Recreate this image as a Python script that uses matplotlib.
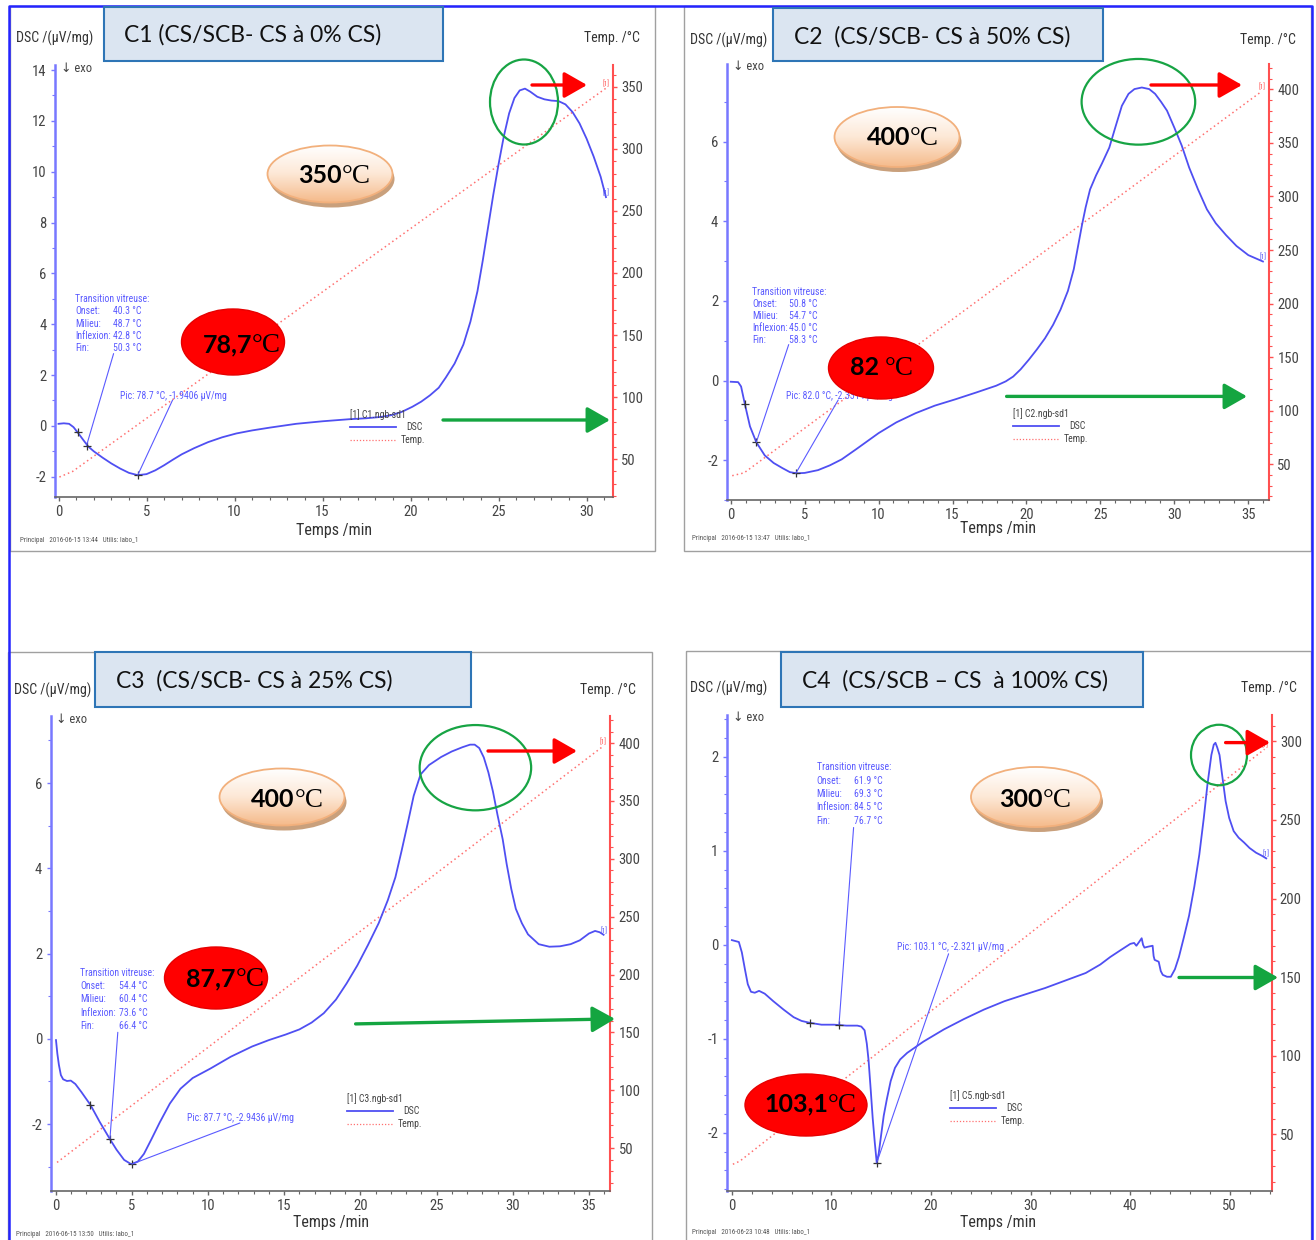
"""DSC thermograms of the CS/SCB blends (C1..C4), redrawn as four panels.

Output:
  out.png
"""

import matplotlib
matplotlib.use("Agg")
import matplotlib.pyplot as plt
import numpy as np
from matplotlib import font_manager
from matplotlib.colors import LinearSegmentedColormap
from matplotlib.patches import Ellipse, Rectangle
from matplotlib.ticker import MultipleLocator

W, H = 1316, 1240

# ---------------------------------------------------------------- data
C1_TIME = [0.0, 0.3, 0.6, 0.85, 1.1, 1.4, 1.7, 2.0, 2.5, 3.0, 3.5, 4.0, 4.5,
           5.0, 5.5, 6.0, 6.5, 7.0, 7.7, 8.5, 9.3, 10.1, 11.0, 12.0, 13.5,
           15.0, 16.5, 17.5, 18.3, 18.9, 19.5, 20.1, 20.6, 21.1, 21.6, 22.0,
           22.5, 23.0, 23.4, 23.8, 24.1, 24.4, 24.7, 25.0, 25.3, 25.6, 25.9,
           26.2, 26.5, 26.8, 27.2, 27.6, 28.0, 28.4, 28.8, 29.2, 29.6, 30.0,
           30.4, 30.8, 31.1]
C1_DSC = [0.08, 0.1, 0.08, -0.05, -0.27, -0.55, -0.82, -1.0, -1.25, -1.48,
          -1.68, -1.85, -1.94, -1.9, -1.75, -1.55, -1.33, -1.12, -0.88, -0.64,
          -0.45, -0.3, -0.18, -0.07, 0.08, 0.18, 0.26, 0.3, 0.35, 0.42, 0.55,
          0.75, 0.95, 1.2, 1.5, 1.9, 2.45, 3.2, 4.1, 5.3, 6.5, 7.8, 9.1,
          10.3, 11.4, 12.3, 12.9, 13.2, 13.27, 13.15, 12.95, 12.85, 12.8,
          12.78, 12.65, 12.35, 11.9, 11.3, 10.6, 9.8, 9.0]
C1_TEMP_TIME = [0.05, 0.8, 31.1]
C1_TEMP = [35.5, 40.0, 349.0]
C1_MARK_TIME = [1.08, 1.59, 4.5]
C1_MARK_DSC = [-0.24, -0.78, -1.94]
C1_TG = ["40.3", "48.7", "42.8", "50.3"]
C1_PIC = "Pic: 78.7 °C, -1.9406 µV/mg"

C2_TIME = [0.0, 0.5, 0.7, 0.96, 1.3, 1.73, 2.3, 2.9, 3.5, 4.0, 4.47, 5.0,
           5.9, 6.7, 7.5, 8.5, 10.0, 11.2, 12.5, 13.8, 15.2, 16.6, 17.95,
           18.6, 19.1, 19.6, 20.15, 20.7, 21.25, 21.8, 22.3, 22.8, 23.2, 23.5,
           23.75, 24.0, 24.3, 24.7, 25.1, 25.6, 26.0, 26.45, 26.9, 27.3, 27.8,
           28.3, 28.7, 29.1, 29.5, 30.0, 30.5, 31.0, 31.6, 32.2, 32.8, 33.5,
           34.2, 35.0, 35.99]
C2_DSC = [-0.03, -0.04, -0.15, -0.6, -1.15, -1.55, -1.88, -2.07, -2.2, -2.3,
          -2.33, -2.32, -2.25, -2.13, -1.98, -1.72, -1.32, -1.05, -0.82,
          -0.63, -0.47, -0.3, -0.13, -0.02, 0.1, 0.28, 0.52, 0.78, 1.06, 1.4,
          1.78, 2.25, 2.8, 3.4, 3.9, 4.35, 4.8, 5.15, 5.45, 5.85, 6.35, 6.9,
          7.2, 7.32, 7.36, 7.32, 7.2, 7.0, 6.78, 6.35, 5.9, 5.35, 4.8, 4.3,
          3.95, 3.65, 3.38, 3.15, 2.99]
C2_TEMP_TIME = [0.1, 0.9, 35.9]
C2_TEMP = [39.4, 42.0, 398.0]
C2_MARK_TIME = [0.97, 1.73, 4.4]
C2_MARK_DSC = [-0.6, -1.55, -2.33]
C2_TG = ["50.8", "54.7", "45.0", "58.3"]
C2_PIC = "Pic: 82.0 °C, -2.3314 µV/mg"

C3_TIME = [0.03, 0.12, 0.22, 0.35, 0.5, 0.75, 1.0, 1.3, 1.7, 2.29, 2.9, 3.58,
           4.0, 4.5, 4.96, 5.4, 5.8, 6.3, 6.84, 7.5, 8.2, 9.0, 10.15, 11.5,
           12.9, 14.0, 15.1, 16.0, 16.8, 17.6, 18.4, 19.1, 19.8, 20.5, 21.2,
           21.8, 22.3, 22.7, 23.1, 23.5, 23.95, 24.5, 25.3, 26.0, 26.7, 27.2,
           27.5, 27.8, 28.1, 28.4, 28.7, 29.0, 29.34, 29.6, 29.9, 30.2, 30.6,
           31.0, 31.7, 32.4, 33.1, 33.8, 34.4, 35.0, 35.4, 35.7, 35.96]
C3_DSC = [-0.03, -0.35, -0.61, -0.85, -0.95, -0.99, -0.98, -1.06, -1.25,
          -1.55, -1.95, -2.36, -2.6, -2.84, -2.94, -2.88, -2.7, -2.35, -1.96,
          -1.52, -1.17, -0.92, -0.7, -0.42, -0.18, -0.03, 0.1, 0.22, 0.38,
          0.6, 0.92, 1.3, 1.72, 2.2, 2.71, 3.25, 3.79, 4.4, 5.04, 5.7, 6.2,
          6.42, 6.61, 6.74, 6.84, 6.9, 6.9, 6.82, 6.6, 6.25, 5.8, 5.25, 4.68,
          4.1, 3.52, 3.05, 2.71, 2.45, 2.22, 2.16, 2.17, 2.22, 2.31, 2.47,
          2.53, 2.5, 2.44]
C3_TEMP_TIME = [0.1, 35.9]
C3_TEMP = [37.7, 397.0]
C3_MARK_TIME = [2.29, 3.57, 5.0]
C3_MARK_DSC = [-1.55, -2.35, -2.94]
C3_TG = ["54.4", "60.4", "73.6", "66.4"]
C3_PIC = "Pic: 87.7 °C, -2.9436 µV/mg"

C4_TIME = [0.0, 0.7, 1.0, 1.31, 1.6, 1.92, 2.3, 2.73, 3.3, 4.16, 5.2, 6.2,
           7.0, 7.82, 9.0, 10.27, 11.5, 12.6, 13.0, 13.33, 13.55, 13.73,
           13.95, 14.14, 14.35, 14.55, 14.75, 14.96, 15.25, 15.57, 15.95,
           16.38, 16.9, 17.61, 19.24, 21.3, 23.31, 25.3, 27.38, 29.4, 31.46,
           33.5, 35.54, 37.0, 38.0, 39.0, 40.02, 40.4, 40.63, 40.9, 41.16,
           41.3, 41.44, 41.8, 42.26, 42.36, 42.46, 42.87, 43.08, 43.28, 43.7,
           44.09, 44.5, 44.9, 45.4, 45.92, 46.45, 46.95, 47.4, 47.76, 48.16,
           48.4, 48.57, 48.75, 48.98, 49.25, 49.59, 49.95, 50.4, 50.9, 51.43,
           52.0, 52.65, 53.2, 53.67]
C4_DSC = [0.05, 0.03, -0.08, -0.26, -0.42, -0.5, -0.51, -0.49, -0.52, -0.6,
          -0.69, -0.77, -0.81, -0.83, -0.85, -0.85, -0.86, -0.86, -0.87,
          -0.91, -1.05, -1.23, -1.55, -1.84, -2.1, -2.32, -2.22, -2.05, -1.82,
          -1.64, -1.45, -1.31, -1.22, -1.15, -1.03, -0.9, -0.79, -0.69, -0.6,
          -0.53, -0.46, -0.38, -0.3, -0.21, -0.13, -0.06, 0.01, 0.02, -0.01,
          0.03, 0.07, 0.0, -0.03, -0.02, -0.01, -0.12, -0.16, -0.18, -0.28,
          -0.32, -0.34, -0.34, -0.26, -0.13, 0.08, 0.31, 0.62, 0.96, 1.35,
          1.7, 2.02, 2.13, 2.15, 2.1, 2.02, 1.8, 1.53, 1.35, 1.21, 1.14,
          1.09, 1.03, 0.98, 0.95, 0.92]
C4_TEMP_TIME = [0.1, 0.8, 53.5]
C4_TEMP = [31.0, 33.0, 295.0]
C4_MARK_TIME = [7.82, 10.76, 14.55]
C4_MARK_DSC = [-0.83, -0.85, -2.32]
C4_TG = ["61.9", "69.3", "84.5", "76.7"]
C4_PIC = "Pic: 103.1 °C, -2.321 µV/mg"

TITLES = ["C1 (CS/SCB- CS à 0% CS)", "C2  (CS/SCB- CS à 50% CS)",
          "C3  (CS/SCB- CS à 25% CS)", "C4  (CS/SCB – CS  à 100% CS)"]
DEGRADATION = ["350", "400", "400", "300"]
PEAK_LABELS = ["78,7", "82", "87,7", "103,1"]
FILE_NAMES = ["[1] C1.ngb-sd1", "[1] C2.ngb-sd1", "[1] C3.ngb-sd1",
              "[1] C5.ngb-sd1"]
STAMPS = ["2016-06-15 13:44", "2016-06-15 13:47", "2016-06-15 13:50",
          "2016-06-23 10:48"]
TG_LABELS = ["Onset:", "Milieu:", "Inflexion:", "Fin:"]
TG_LABELS_C4 = ["Onset:", "Milieu:", "Inflesion:", "Fin:"]

# ---------------------------------------------------------------- style
DSC_BLUE = "#4f4ff2"
AXIS_BLUE = "#7878ff"
TEMP_RED = "#ff7070"
AXIS_RED = "#ff5050"
NOTE_BLUE = "#5a5aff"
TICK_GREY = "#444444"


def pick_narrow():
    entries = font_manager.fontManager.ttflist
    names = {f.name for f in entries}
    for cand in ("Liberation Sans Narrow", "Roboto Condensed", "Open Sans Condensed",
                 "Noto Sans Condensed"):
        if cand in names:
            return cand, "normal", 1.0
    for f in entries:
        if f.name == "DejaVu Sans" and "condensed" in str(f.stretch):
            return "DejaVu Sans", "condensed", 0.95
    return "Liberation Sans", "normal", 0.88


NARROW, STRETCH, SCALE = pick_narrow()
_names = {f.name for f in font_manager.fontManager.ttflist}
TITLE_FONT = "Lato" if "Lato" in _names else "DejaVu Sans"
SERIF = "Liberation Serif"

BEIGE = LinearSegmentedColormap.from_list("beige", ["#ffffff", "#fde8d6", "#f5bb8c"])


def fs(size):
    return size * SCALE


def add_badge(ov, cx, cy, w, h, num, num_right, unit_left, base, red):
    if red:
        ov.add_patch(Ellipse((cx, cy), w, h, facecolor="#ff0000",
                             edgecolor="#e60000", lw=1, zorder=6))
    else:
        ov.add_patch(Ellipse((cx + 2, cy + 5), w, h, facecolor="#c9a07c",
                             edgecolor="none", zorder=4))
        body = Ellipse((cx, cy), w, h, facecolor="none", edgecolor="#f2b07c",
                       lw=1.3, zorder=6)
        ov.add_patch(body)
        img = ov.imshow(np.linspace(0, 1, 64)[:, None], cmap=BEIGE,
                        extent=(cx - w / 2, cx + w / 2, cy + h / 2, cy - h / 2),
                        aspect="auto", interpolation="bicubic", zorder=5)
        img.set_clip_path(body)
    ov.text(num_right, base, num, ha="right", va="baseline", fontsize=18,
            fontweight="bold", family=[TITLE_FONT, "DejaVu Sans"], zorder=7)
    ov.text(unit_left, base, "°C", ha="left", va="baseline", fontsize=19.5,
            family=[SERIF, "DejaVu Serif"], zorder=7)


def arrow(ov, start, tip, color):
    ov.annotate("", xy=tip, xytext=start, zorder=8,
                arrowprops=dict(arrowstyle="-|>,head_length=0.7,head_width=0.4",
                                color=color, lw=2.4, mutation_scale=20,
                                shrinkA=0, shrinkB=0))


def draw_panel(fig, ov, p):
    x0, y0, x1, y1 = p["box"]
    ax = fig.add_axes([x0 / W, 1 - y1 / H, (x1 - x0) / W, (y1 - y0) / H])
    ax.patch.set_alpha(0)
    tx = ax.twinx()

    tx.plot(p["temp_t"], p["temp"], color=TEMP_RED, lw=1.1, ls=(0, (1, 2)))
    ax.plot(p["t"], p["dsc"], color=DSC_BLUE, lw=1.3, zorder=3)
    ax.plot(p["mark_t"], p["mark_y"], "+", color="#333333", ms=6, mew=0.9,
            zorder=4)
    ax.set_zorder(tx.get_zorder() + 1)

    ax.set_xlim(*p["xlim"])
    ax.set_ylim(*p["ylim"])
    ax.xaxis.set_major_locator(MultipleLocator(p["xmaj"]))
    ax.xaxis.set_minor_locator(MultipleLocator(p["xmin"]))
    ax.yaxis.set_major_locator(MultipleLocator(p["ymaj"]))
    ax.yaxis.set_minor_locator(MultipleLocator(p["ymin"]))
    tx.yaxis.set_major_locator(MultipleLocator(50))
    tx.yaxis.set_minor_locator(MultipleLocator(10))
    tx.set_ylim(*p["tlim"])

    for s in ("top", "right"):
        ax.spines[s].set_visible(False)
    for s in ("top", "left", "bottom"):
        tx.spines[s].set_visible(False)
    ax.spines["left"].set_color(AXIS_BLUE)
    ax.spines["left"].set_linewidth(1.8)
    ax.spines["bottom"].set_color("#666666")
    ax.spines["bottom"].set_linewidth(1.2)
    tx.spines["right"].set_color(AXIS_RED)
    tx.spines["right"].set_linewidth(1.5)

    ax.tick_params(axis="y", which="both", colors=AXIS_BLUE, labelcolor=TICK_GREY,
                   labelsize=fs(10.5), pad=3)
    ax.tick_params(axis="x", which="both", colors="#666666", labelcolor=TICK_GREY,
                   labelsize=fs(10.5), pad=3)
    tx.tick_params(axis="y", which="both", colors=AXIS_RED, labelcolor=TICK_GREY,
                   labelsize=fs(10.5), pad=3)
    for a in (ax, tx):
        a.tick_params(which="major", length=3, width=1)
        a.tick_params(which="minor", length=2, width=0.8)

    # axis captions
    lx, ly = p["dsc_label"]
    ov.text(lx, ly, "DSC /(µV/mg)", fontsize=fs(10), color="#333333", va="center")
    rx, ry = p["temp_label"]
    ov.text(rx, ry, "Temp. /°C", fontsize=fs(10), color="#333333", va="center",
            ha="right")
    ov.text(x0 + 6, y0 + 3, "↓ exo", fontsize=fs(9), color="#444444", va="center")
    cx, cy = p["time_label"]
    ov.text(cx, cy, "Temps /min", fontsize=fs(11.5), color="#333333",
            ha="center", va="center")
    fx, fy = p["footer"]
    ov.text(fx, fy, f"Principal   {p['stamp']}   Utilis: labo_1", fontsize=fs(5),
            color="#555555", va="center")

    # title box
    bx0, by0, bx1, by1 = p["title_box"]
    ov.add_patch(Rectangle((bx0, by0), bx1 - bx0, by1 - by0, facecolor="#dbe5f1",
                           edgecolor="#2e75b6", lw=1.5, zorder=5))
    ov.text(p["title_pos"][0], p["title_pos"][1], p["title"], fontsize=16.5,
            family=[TITLE_FONT, "DejaVu Sans"], color="#111111", va="baseline",
            fontstretch="normal", zorder=6)

    # glass transition block
    tgx, tgy, tgv, dy = p["tg"]
    kw = dict(fontsize=fs(7), color=NOTE_BLUE, va="center", zorder=3)
    ov.text(tgx, tgy, "Transition vitreuse:", **kw)
    for i, (lab, val) in enumerate(zip(p["tg_labels"], p["tg_values"])):
        ov.text(tgx, tgy + dy * (i + 1), lab, **kw)
        ov.text(tgv, tgy + dy * (i + 1), f"{val} °C", **kw)
    ov.text(p["pic_pos"][0], p["pic_pos"][1], p["pic"], **kw)

    # leader lines from the notes to the curve
    for start, k in ((p["lead_tg"], 1), (p["lead_pic"], 2)):
        ov.annotate("", xy=(p["mark_t"][k], p["mark_y"][k]), xycoords=ax.transData,
                    xytext=start, textcoords="data", zorder=3,
                    arrowprops=dict(arrowstyle="-", color=NOTE_BLUE, lw=0.8,
                                    shrinkA=0, shrinkB=0))

    # curve end tags
    ax.text(p["t"][-1], p["dsc"][-1], "[1]", fontsize=5, color=DSC_BLUE,
            ha="center", va="bottom", zorder=4)
    tx.text(p["temp_t"][-1], p["temp"][-1], "[1]", fontsize=5, color=AXIS_RED,
            ha="center", va="bottom")

    # legend
    gx, gy = p["legend"]
    lkw = dict(fontsize=fs(7), color="#444444", va="center", zorder=3)
    ov.text(gx, gy, p["file"], **lkw)
    ov.plot([gx, gx + 46], [gy + 12, gy + 12], color=DSC_BLUE, lw=1.3)
    ov.text(gx + 56, gy + 12, "DSC", **lkw)
    ov.plot([gx, gx + 46], [gy + 25, gy + 25], color=TEMP_RED, lw=0.9,
            ls=(0, (1, 1.5)))
    ov.text(gx + 51, gy + 25, "Temp.", **lkw)

    # highlighting shapes
    bcx, bcy, bw, bh, nr, ul, base = p["beige"]
    add_badge(ov, bcx, bcy, bw, bh, p["deg"], nr, ul, base, red=False)
    rcx, rcy, rw, rh, nr, ul, base = p["red"]
    add_badge(ov, rcx, rcy, rw, rh, p["peak"], nr, ul, base, red=True)
    gcx, gcy, gw, gh = p["green"]
    ov.add_patch(Ellipse((gcx, gcy), gw, gh, facecolor="none",
                         edgecolor="#17a444", lw=1.6, zorder=7))
    arrow(ov, *p["red_arrow"], "#ff0000")
    arrow(ov, *p["green_arrow"], "#14a540")
    return ax


def main() -> None:
    plt.rcParams["font.family"] = [NARROW, "DejaVu Sans"]
    plt.rcParams["font.stretch"] = STRETCH
    plt.rcParams["axes.unicode_minus"] = False

    panels = [
        dict(t=C1_TIME, dsc=C1_DSC, temp_t=C1_TEMP_TIME, temp=C1_TEMP,
             mark_t=C1_MARK_TIME, mark_y=C1_MARK_DSC, tg_values=C1_TG,
             tg_labels=TG_LABELS, pic=C1_PIC,
             box=(55, 65, 613, 497), xlim=(-0.2, 31.5), ylim=(-2.8, 14.2),
             tlim=(19.4, 367.7), xmaj=5, xmin=1, ymaj=2, ymin=1,
             dsc_label=(16, 38), temp_label=(640, 38), time_label=(334, 530),
             footer=(20, 540), title_box=(104, 7, 443, 61), title_pos=(124, 42),
             tg=(75, 299, 113, 12.3), pic_pos=(120, 396),
             lead_tg=(113.6, 353.6), lead_pic=(172.6, 400), legend=(350, 415),
             beige=(330, 174, 125, 57, 342, 342, 183),
             red=(233, 342, 103, 66, 252, 252, 352),
             green=(524, 102, 68, 85),
             red_arrow=((532, 85), (587, 85)),
             green_arrow=((443, 420), (610, 420))),
        dict(t=C2_TIME, dsc=C2_DSC, temp_t=C2_TEMP_TIME, temp=C2_TEMP,
             mark_t=C2_MARK_TIME, mark_y=C2_MARK_DSC, tg_values=C2_TG,
             tg_labels=TG_LABELS, pic=C2_PIC,
             box=(726.6, 64, 1269, 500), xlim=(-0.28, 36.4), ylim=(-3.0, 7.95),
             tlim=(16.7, 423.6), xmaj=5, xmin=1, ymaj=2, ymin=1,
             dsc_label=(690, 40), temp_label=(1296, 40), time_label=(998, 529),
             footer=(692, 539), title_box=(772.5, 8, 1103, 61),
             title_pos=(793.6, 43.6),
             tg=(752, 292, 788.7, 11.9), pic_pos=(786, 396.4),
             lead_tg=(788.7, 344.6), lead_pic=(838.2, 400), legend=(1013, 414),
             beige=(897, 137, 125, 60, 910, 910, 144.6),
             red=(881, 368, 105, 62, 879, 885, 375),
             green=(1138.4, 101.8, 113.6, 85.7),
             red_arrow=((1151, 85), (1242, 85)),
             green_arrow=((1006.6, 396.4), (1247, 396.4))),
        dict(t=C3_TIME, dsc=C3_DSC, temp_t=C3_TEMP_TIME, temp=C3_TEMP,
             mark_t=C3_MARK_TIME, mark_y=C3_MARK_DSC, tg_values=C3_TG,
             tg_labels=TG_LABELS, pic=C3_PIC,
             box=(50.5, 716.5, 610.3, 1191), xlim=(-0.33, 36.4),
             ylim=(-3.57, 7.56), tlim=(13, 423), xmaj=5, xmin=1, ymaj=2, ymin=1,
             dsc_label=(14, 690), temp_label=(636, 690), time_label=(331, 1223),
             footer=(16, 1234), title_box=(95, 651.5, 470.5, 707),
             title_pos=(115.7, 687.8),
             tg=(80, 973, 118.7, 13.2), pic_pos=(187.3, 1118.4),
             lead_tg=(117.8, 1032.3), lead_pic=(239.9, 1123), legend=(347, 1099),
             beige=(282, 797, 125, 57, 294.6, 294.6, 807.2),
             red=(216, 978, 103, 62, 235.7, 235.7, 986.3),
             green=(475.4, 767.7, 111.5, 85.3),
             red_arrow=((488, 751), (577, 751)),
             green_arrow=((355.6, 1023.9), (615, 1018.9))),
        dict(t=C4_TIME, dsc=C4_DSC, temp_t=C4_TEMP_TIME, temp=C4_TEMP,
             mark_t=C4_MARK_TIME, mark_y=C4_MARK_DSC, tg_values=C4_TG,
             tg_labels=TG_LABELS_C4, pic=C4_PIC,
             box=(726.7, 714.6, 1271.5, 1191), xlim=(-0.52, 54.2),
             ylim=(-2.62, 2.45), tlim=(14, 317), xmaj=10, xmin=2, ymaj=1,
             ymin=0.2,
             dsc_label=(690, 688), temp_label=(1297, 688), time_label=(998, 1222),
             footer=(692, 1232), title_box=(781.4, 651.5, 1142.5, 707),
             title_pos=(801.7, 687.8),
             tg=(816.7, 767.4, 854.4, 13.3), pic_pos=(897, 947.3),
             lead_tg=(853.6, 827.5), lead_pic=(948.6, 953.8), legend=(950, 1096),
             beige=(1036, 797, 130, 60, 1042.3, 1042.3, 807.2),
             red=(806, 1105, 122, 62, 828, 828, 1111.5),
             green=(1219, 755, 56, 60.5),
             red_arrow=((1225.6, 742.6), (1270, 742.6)),
             green_arrow=((1179, 977.5), (1278, 977.5))),
    ]
    for p, title, deg, peak, fname, stamp in zip(panels, TITLES, DEGRADATION,
                                                 PEAK_LABELS, FILE_NAMES, STAMPS):
        p.update(title=title, deg=deg, peak=peak, file=fname, stamp=stamp)

    fig = plt.figure(figsize=(W / 100, H / 100), dpi=100)
    ov = fig.add_axes([0, 0, 1, 1], zorder=10)
    ov.set_xlim(0, W)
    ov.set_ylim(H, 0)
    ov.set_autoscale_on(False)
    ov.axis("off")

    for p in panels:
        draw_panel(fig, ov, p)

    # panel frames and the outer blue border
    for fx0, fy0, fx1, fy1 in ((10, 6, 655, 551), (684, 6, 1311, 551),
                               (8, 652, 652, 1245), (686, 651, 1311, 1245)):
        ov.add_patch(Rectangle((fx0, fy0), fx1 - fx0, fy1 - fy0, facecolor="none",
                               edgecolor="#a0a0a0", lw=1.0, zorder=1))
    ov.plot([9, 9, 1312, 1312], [1240, 6, 6, 1240], color="#2424ff", lw=1.8,
            zorder=2)

    fig.savefig("out.png", dpi=100)


if __name__ == "__main__":
    main()
